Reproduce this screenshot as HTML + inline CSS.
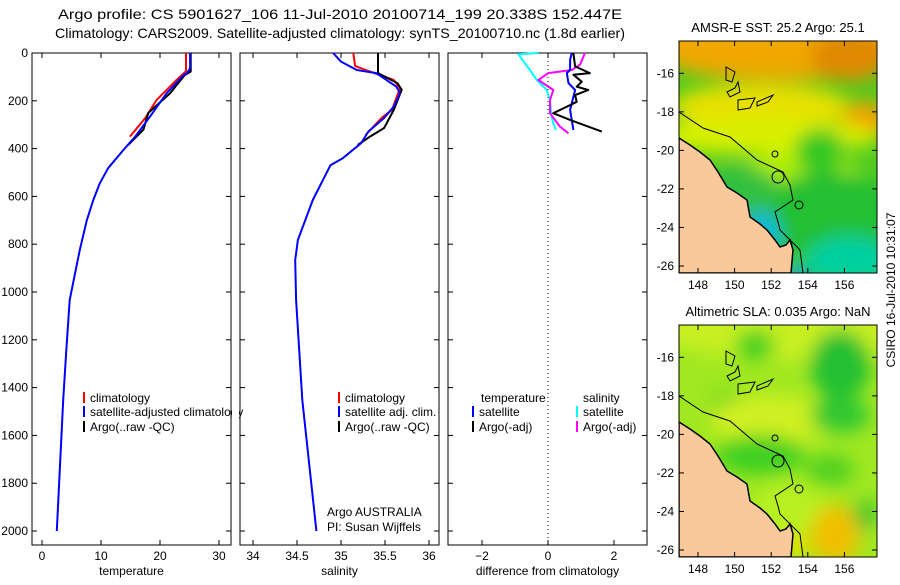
<!DOCTYPE html>
<html><head><meta charset="utf-8">
<style>
body{margin:0;background:#fff;}
svg text{font-family:"Liberation Sans",sans-serif;font-size:12px;fill:#000;}
</style></head>
<body>
<svg id="chart" width="900" height="580" xmlns="http://www.w3.org/2000/svg">
<defs>
<filter id="blur" x="-20%" y="-20%" width="140%" height="140%"><feGaussianBlur stdDeviation="9"/></filter>
<clipPath id="m1clip"><rect x="679" y="41" width="198" height="232"/></clipPath>
<clipPath id="m2clip"><rect x="679" y="325" width="198" height="232"/></clipPath>
</defs>
<text x="58" y="19" textLength="564" lengthAdjust="spacingAndGlyphs" style="font-size:14px">Argo profile: CS 5901627_106 11-Jul-2010 20100714_199 20.338S 152.447E</text>
<text x="55" y="38" textLength="570" lengthAdjust="spacingAndGlyphs" style="font-size:14px">Climatology: CARS2009. Satellite-adjusted climatology: synTS_20100710.nc (1.8d earlier)</text>
<g id="panels"></g>
<g id="maps"></g>
<text transform="translate(895,290) rotate(-90)" text-anchor="middle">CSIRO 16-Jul-2010 10:31:07</text>
</svg>
<script>
// ---- data ----
const depthTicks=[0,200,400,600,800,1000,1200,1400,1600,1800,2000];
const tempTicks=[0,10,20,30];
const salTicks=[34,34.5,35,35.5,36];
const salTickLabels=["34","34.5","35","35.5","36"];
const diffTicks=[-2,0,2];
// temperature
const tSatDepth=[0,63,84,92,169,266,350,406,482,545,615,700,824,1033,1250,1452,1700,2000];
const tSatVal=[25.1,25.1,24.6,24.0,21.1,18.3,15.8,13.8,11.2,9.8,8.7,7.6,6.4,4.7,4.1,3.6,3.1,2.5];
const tClimDepth=[0,76,113,197,272,350];
const tClimVal=[24.4,24.4,22.8,19.4,17.5,14.9];
const tArgoDepth=[0,78,92,169,251,320,385];
const tArgoVal=[25.2,25.2,24.2,21.7,18.0,17.2,14.6];
// salinity
const sSatDepth=[0,36,71,84,141,168,224,272,329,377,440,470,615,782,866,1033,1452,2000];
const sSatVal=[34.91,35.0,35.18,35.4,35.63,35.67,35.6,35.49,35.31,35.23,35.02,34.88,34.68,34.51,34.48,34.49,34.56,34.72];
const sClimDepth=[0,54,71,113,147,238,272,343];
const sClimVal=[35.14,35.16,35.28,35.6,35.67,35.58,35.46,35.28];
const sArgoDepth=[0,84,126,154,238,314,350,385];
const sArgoVal=[35.42,35.42,35.64,35.69,35.6,35.49,35.33,35.19];
// differences
const dSalSatDepth=[0,5,71,113,155,197,266,294,322];
const dSalSatVal=[-0.29,-0.9,-0.55,-0.34,-0.04,0.06,0.11,0.16,0.24];
const dSalArgoDepth=[0,49,71,84,113,155,197,252,308,336];
const dSalArgoVal=[1.12,0.97,0.72,0.01,-0.29,0.16,0.06,0.06,0.36,0.62];
const dTempSatDepth=[0,28,71,84,126,155,211,238,322];
const dTempSatVal=[0.72,0.67,0.67,0.57,0.62,0.82,0.72,0.67,0.77];
const dTempArgoDepth=[0,56,84,91,120,141,155,176,204,218,252,280,329];
const dTempArgoVal=[0.77,0.82,1.27,0.77,1.02,0.87,1.22,0.82,0.87,0.67,0.16,0.67,1.63];
const lonTicks=[148,150,152,154,156];
const latTicks=[-16,-18,-20,-22,-24,-26];

const NS="http://www.w3.org/2000/svg";
function mk(tag,attrs,parent){const e=document.createElementNS(NS,tag);for(const k in attrs)e.setAttribute(k,attrs[k]);parent.appendChild(e);return e;}
const yD=d=>53+d*0.239;
const panels=[
 {x0:32,x1:231,v0:0,s:5.9,o:42,ticks:tempTicks,labels:tempTicks.map(String),title:"temperature",name:"temperature"},
 {x0:240,x1:439,v0:34,s:88,o:253,ticks:salTicks,labels:salTickLabels,title:"salinity",name:"salinity"},
 {x0:448,x1:647,v0:0,s:33,o:548,ticks:diffTicks,labels:diffTicks.map(v=>v<0?"\u2212"+(-v):String(v)),title:"difference from climatology",name:"difference"}
];
const G=document.getElementById('panels');
panels.forEach((p,i)=>{
 const g=mk('g',{},G);
 
 
 p.xf=v=>p.o+(v-p.v0)*p.s;
 const r=mk('rect',{x:p.x0,y:53,width:p.x1-p.x0,height:492,fill:'none',stroke:'#000','stroke-width':1},g);
 
 
 depthTicks.forEach(d=>{
  const y=yD(d);
  mk('line',{x1:p.x0,x2:p.x0+5,y1:y,y2:y,stroke:'#000'},g);
  mk('line',{x1:p.x1-5,x2:p.x1,y1:y,y2:y,stroke:'#000'},g);
  if(i===0){const t=mk('text',{x:28,y:y+4,'text-anchor':'end'},g);t.textContent=d;
   
   }
 });
 p.ticks.forEach((v,k)=>{
  const x=p.xf(v);
  mk('line',{x1:x,x2:x,y1:545,y2:540,stroke:'#000'},g);
  mk('line',{x1:x,x2:x,y1:53,y2:58,stroke:'#000'},g);
  const t=mk('text',{x:x,y:560,'text-anchor':'middle'},g);t.textContent=p.labels[k];
  
  
 });
 const t=mk('text',{x:(p.x0+p.x1)/2,y:575,'text-anchor':'middle'},g);t.textContent=p.title;
 
 
});
function line(p,ds,vs,color,w,name){
 const pts=ds.map((d,k)=>p.xf(vs[k]).toFixed(1)+','+yD(d).toFixed(1)).join(' ');
 const l=mk('polyline',{points:pts,fill:'none',stroke:color,'stroke-width':w,'stroke-linejoin':'round'},G);
 
 
}
const zl=mk('line',{x1:548,x2:548,y1:53,y2:545,stroke:'#000','stroke-dasharray':'1,3'},G);


line(panels[0],tClimDepth,tClimVal,'#f00',2,'temp-climatology-line');
line(panels[0],tArgoDepth,tArgoVal,'#000',2,'temp-argo-line');
line(panels[0],tSatDepth,tSatVal,'#00f',2,'temp-satellite-line');
line(panels[1],sClimDepth,sClimVal,'#f00',2,'sal-climatology-line');
line(panels[1],sArgoDepth,sArgoVal,'#000',2,'sal-argo-line');
line(panels[1],sSatDepth,sSatVal,'#00f',2,'sal-satellite-line');
line(panels[2],dSalSatDepth,dSalSatVal,'#0ff',2,'diff-sal-satellite-line');
line(panels[2],dSalArgoDepth,dSalArgoVal,'#f0f',2,'diff-sal-argo-line');
line(panels[2],dTempSatDepth,dTempSatVal,'#00f',2,'diff-temp-satellite-line');
line(panels[2],dTempArgoDepth,dTempArgoVal,'#000',2,'diff-temp-argo-line');
function leg(x,y,color,text,name){
 const g=mk('g',{},G);
 
 
 if(color)mk('line',{x1:x,x2:x,y1:y-10,y2:y+1,stroke:color,'stroke-width':2},g);
 const t=mk('text',{x:x+6,y:y},g);t.textContent=text;
}
leg(84,402,'#f00','climatology','legend-temp-climatology');
leg(84,416,'#00f','satellite-adjusted climatology','legend-temp-satellite');
leg(84,431,'#000','Argo(..raw -QC)','legend-temp-argo');
leg(339,402,'#f00','climatology','legend-sal-climatology');
leg(339,416,'#00f','satellite adj. clim.','legend-sal-satellite');
leg(339,431,'#000','Argo(..raw -QC)','legend-sal-argo');
leg(475,402,null,'temperature','legend-diff-temp-header');
leg(577,402,null,'salinity','legend-diff-sal-header');
leg(473,416,'#00f','satellite','legend-diff-temp-satellite');
leg(473,431,'#000','Argo(-adj)','legend-diff-temp-argo');
leg(577,416,'#0ff','satellite','legend-diff-sal-satellite');
leg(577,431,'#f0f','Argo(-adj)','legend-diff-sal-argo');
mk('rect',{x:232,y:404,width:7,height:16,fill:'#fff'},G);
const a1=mk('text',{x:327,y:516},G);a1.textContent='Argo AUSTRALIA';


const a2=mk('text',{x:327,y:531},G);a2.textContent='PI: Susan Wijffels';



// ---- maps ----
const M=document.getElementById('maps');
const lonX=l=>698+(l-148)*18.3;
function drawMap(top,clip,blobs,base,title,name){
 const g=mk('g',{},M);
 
 
 const latY=l=>top+32.3+(-16-l)*19.27;
 const inner=mk('g',{'clip-path':'url(#'+clip+')'},g);
 mk('rect',{x:679,y:top,width:198,height:232,fill:base},inner);
 const bg=mk('g',{filter:'url(#blur)'},inner);
 blobs.forEach(b=>mk('ellipse',{cx:b[0],cy:top+b[1],rx:b[2],ry:b[3],fill:b[4]},bg));
 const o=top-41;
 const land=[[679,138],[690,145],[700,152],[710,160],[718,172],[727,187],[737,193],[747,200],[750,217],[760,224],[767,230],[775,240],[780,247],[786,245],[790,240],[793,250],[791,273],[679,273]];
 mk('polygon',{points:land.map(q=>q[0]+','+(q[1]+o)).join(' '),fill:'#f9c99b',stroke:'#000','stroke-width':1.5},inner);
 const shelf=[[679,112],[703,128],[730,137],[757,160],[783,172],[790,185],[793,200],[775,212],[778,222],[780,230],[800,250],[803,273]];
 mk('polyline',{points:shelf.map(q=>q[0]+','+(q[1]+o)).join(' '),fill:'none',stroke:'#000','stroke-width':1},inner);
 const reefs=[[[726,67],[735,72],[732,82],[726,80]],[[738,82],[740,92],[730,97],[727,92],[735,88]],[[738,100],[755,98],[750,108],[738,110]],[[757,102],[773,95],[768,102],[757,106]]];
 reefs.forEach(r=>mk('polygon',{points:r.map(q=>q[0]+','+(q[1]+o)).join(' '),fill:'none',stroke:'#000'},inner));
 mk('circle',{cx:775,cy:154+o,r:3,fill:'none',stroke:'#000'},inner);
 mk('circle',{cx:778,cy:177+o,r:6,fill:'none',stroke:'#000'},inner);
 mk('circle',{cx:799,cy:205+o,r:4,fill:'none',stroke:'#000'},inner);
 mk('rect',{x:679,y:top,width:198,height:232,fill:'none',stroke:'#000'},g);
 lonTicks.forEach(l=>{
  const x=lonX(l);
  mk('line',{x1:x,x2:x,y1:top,y2:top+5,stroke:'#000'},g);
  mk('line',{x1:x,x2:x,y1:top+232,y2:top+227,stroke:'#000'},g);
  const t=mk('text',{x:x,y:top+248,'text-anchor':'middle'},g);t.textContent=l;
  
  
 });
 latTicks.forEach(l=>{
  const y=latY(l);
  mk('line',{x1:679,x2:684,y1:y,y2:y,stroke:'#000'},g);
  mk('line',{x1:872,x2:877,y1:y,y2:y,stroke:'#000'},g);
  const t=mk('text',{x:674,y:y+4,'text-anchor':'end'},g);t.textContent=l;
  
  
 });
 const t=mk('text',{x:778,y:top-9,'text-anchor':'middle',style:'font-size:13px'},g);t.textContent=title;
 
 
}
drawMap(41,'m1clip',[
 [778,5,130,35,'#f0a800'],[850,15,40,25,'#e08800'],[865,80,25,20,'#f0a000'],
 [760,65,90,22,'#e8e000'],[760,95,120,18,'#d8f000'],
 [800,135,60,25,'#b0f000'],[820,110,25,22,'#30c820'],
 [830,175,70,45,'#20c030'],[740,150,40,25,'#30c040'],
 [850,220,45,25,'#00d0a0'],[760,195,20,25,'#10b8e0'],[795,245,15,20,'#10a0f0']
],'#50cc20','AMSR-E SST: 25.2 Argo: 25.1','sst-map');
drawMap(325,'m2clip',[
 [790,0,140,35,'#c8f020'],[755,20,20,15,'#40d020'],[840,40,30,35,'#20c030'],
 [730,85,20,18,'#60d028'],[770,95,60,25,'#d0f020'],
 [840,90,30,18,'#30c830'],[760,130,45,20,'#40d020'],[830,145,25,15,'#50d020'],
 [790,185,40,25,'#b8f020'],[835,210,25,30,'#f0c000'],[865,190,10,15,'#20c030'],[790,220,20,10,'#e8e000']
],'#a0e820','Altimetric SLA: 0.035 Argo: NaN','sla-map');
</script>
</body></html>
